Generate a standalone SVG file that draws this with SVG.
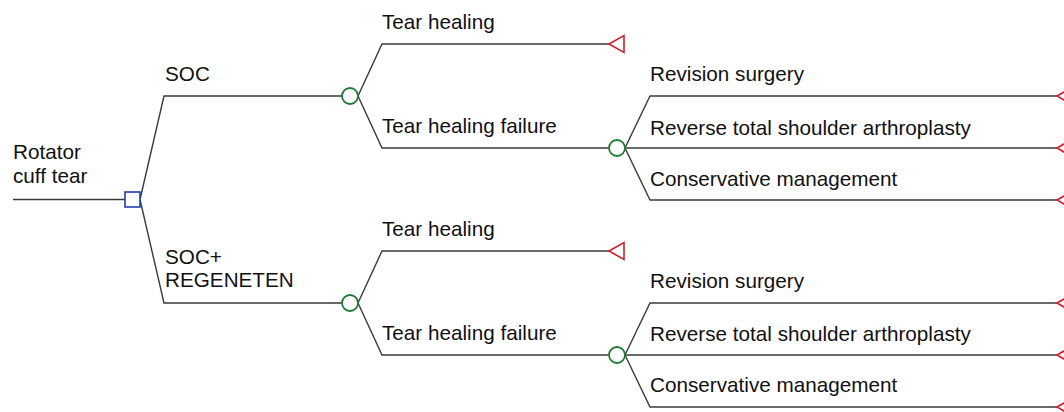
<svg xmlns="http://www.w3.org/2000/svg" width="1064" height="412" viewBox="0 0 1064 412">
<style>
.ln{fill:none;stroke:#3a3a3a;stroke-width:1.4}
.dec{fill:#fff;stroke:#1f3fb0;stroke-width:1.6}
.chn{fill:#fff;stroke:#1f7a35;stroke-width:1.8}
.trm{fill:#fff;stroke:#d0202a;stroke-width:1.6}
text{font-family:"Liberation Sans",Arial,sans-serif;font-size:20.7px;fill:#111}
</style>
<rect width="1064" height="412" fill="#fff"/>
<g id="connectors">
<path class="ln" d="M13,199.5H125"/>
<path class="ln" d="M140,199.5L164,96H342"/>
<path class="ln" d="M140,199.5L164,303H342"/>
<path class="ln" d="M358,96L382,44H609"/>
<path class="ln" d="M358,96L382,148H608.5"/>
<path class="ln" d="M358,303L382,251H609"/>
<path class="ln" d="M358,303L382,355H608.5"/>
<path class="ln" d="M625,148L650,96H1057"/>
<path class="ln" d="M625,148H1057"/>
<path class="ln" d="M625,148L650,200H1057"/>
<path class="ln" d="M625,355L650,303H1057"/>
<path class="ln" d="M625,355H1057"/>
<path class="ln" d="M625,355L650,407H1057"/>
</g>
<g id="root"><rect class="dec" x="125" y="192" width="15" height="15"/><text x="13" y="159">Rotator</text><text x="13" y="183">cuff tear</text></g>
<g id="soc"><circle class="chn" cx="350" cy="96" r="8"/><text x="165" y="81">SOC</text></g>
<g id="socreg"><circle class="chn" cx="350" cy="303" r="8"/><text x="165" y="263.5">SOC+</text><text x="165" y="287">REGENETEN</text></g>
<g id="soc-heal"><polygon class="trm" points="609,44 624,35.5 624,52.5"/><text x="382" y="28.5">Tear healing</text></g>
<g id="soc-fail"><circle class="chn" cx="617" cy="148" r="8"/><text x="382" y="133">Tear healing failure</text></g>
<g id="reg-heal"><polygon class="trm" points="609,251 624,242.5 624,259.5"/><text x="382" y="236">Tear healing</text></g>
<g id="reg-fail"><circle class="chn" cx="617" cy="355" r="8"/><text x="382" y="340">Tear healing failure</text></g>
<g id="soc-rev"><polygon class="trm" points="1057,96 1072,87.5 1072,104.5"/><text x="650" y="80.5">Revision surgery</text></g>
<g id="soc-rtsa"><polygon class="trm" points="1057,148 1072,139.5 1072,156.5"/><text x="650" y="134.5">Reverse total shoulder arthroplasty</text></g>
<g id="soc-cons"><polygon class="trm" points="1057,200 1072,191.5 1072,208.5"/><text x="650" y="186">Conservative management</text></g>
<g id="reg-rev"><polygon class="trm" points="1057,303 1072,294.5 1072,311.5"/><text x="650" y="288">Revision surgery</text></g>
<g id="reg-rtsa"><polygon class="trm" points="1057,355 1072,346.5 1072,363.5"/><text x="650" y="341">Reverse total shoulder arthroplasty</text></g>
<g id="reg-cons"><polygon class="trm" points="1057,407 1072,398.5 1072,415.5"/><text x="650" y="392">Conservative management</text></g>
</svg>
